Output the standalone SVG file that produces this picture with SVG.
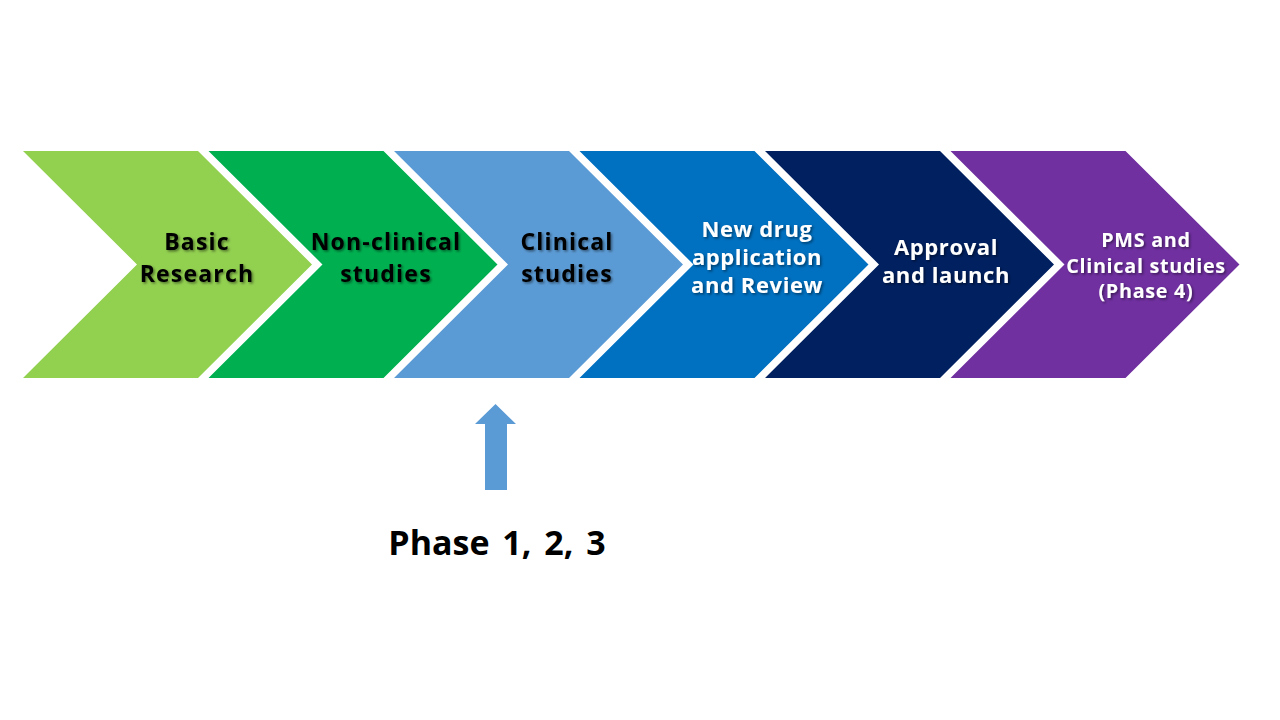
<svg xmlns="http://www.w3.org/2000/svg" width="1280" height="720" viewBox="0 0 1280 720">
<defs>
<filter id="sh" x="-10%" y="-20%" width="130%" height="150%">
<feDropShadow dx="1.5" dy="1.5" stdDeviation="1" flood-color="#000" flood-opacity="0.45"/>
</filter>
<path id="chev" d="M0,0 H175 L289,113.5 L175,227 H0 L114,113.5 Z"/>
</defs>
<style>
text{font-family:"Open Sans","Noto Sans","Liberation Sans",sans-serif;font-weight:bold;text-anchor:middle}
.lbl{filter:url(#sh)}
.dk{fill:#000;font-size:23px;letter-spacing:1.2px}
.lt{fill:#fff;font-size:22px;letter-spacing:0.6px}
.sm{font-size:19.8px;letter-spacing:0.7px}
.ph{font-size:34px;fill:#000;word-spacing:4px}
</style>
<rect width="1280" height="720" fill="#fff"/>
<g id="node-basic-research">
<use href="#chev" x="23" y="151" fill="#92D050"/>
<text class="lbl dk" x="197" y="250">Basic</text>
<text class="lbl dk" x="197" y="282">Research</text>
</g>
<g id="node-non-clinical">
<use href="#chev" x="208.5" y="151" fill="#00B050"/>
<text class="lbl dk" x="386" y="250">Non-clinical</text>
<text class="lbl dk" x="386" y="282">studies</text>
</g>
<g id="node-clinical">
<use href="#chev" x="394" y="151" fill="#5B9BD5"/>
<text class="lbl dk" x="567" y="250">Clinical</text>
<text class="lbl dk" x="567" y="282">studies</text>
</g>
<g id="node-nda">
<use href="#chev" x="579.5" y="151" fill="#0070C0"/>
<text class="lbl lt" x="757" y="237">New drug</text>
<text class="lbl lt" x="757" y="265">application</text>
<text class="lbl lt" x="757" y="293">and Review</text>
</g>
<g id="node-approval">
<use href="#chev" x="765" y="151" fill="#002060"/>
<text class="lbl lt" x="946" y="255">Approval</text>
<text class="lbl lt" x="946" y="283">and launch</text>
</g>
<g id="node-pms">
<use href="#chev" x="950.5" y="151" fill="#7030A0"/>
<text class="lbl lt sm" x="1146" y="247">PMS and</text>
<text class="lbl lt sm" x="1146" y="272.5">Clinical studies</text>
<text class="lbl lt sm" x="1146" y="298">(Phase 4)</text>
</g>
<g id="connectors">
<path d="M485,490 V424 H475 L495.5,404 L516,424 H507 V490 Z" fill="#5B9BD5"/>
</g>
<g id="node-phase">
<text class="ph" x="497" y="555">Phase 1, 2, 3</text>
</g>
</svg>
